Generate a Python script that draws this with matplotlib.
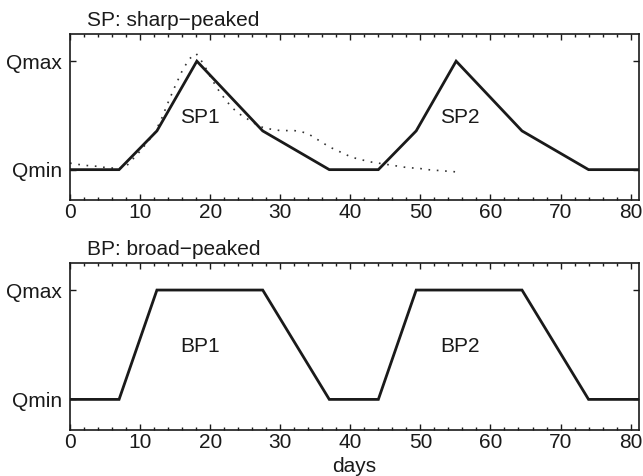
import matplotlib
matplotlib.use("Agg")
import matplotlib.pyplot as plt
from matplotlib.ticker import MultipleLocator

plt.rcParams['font.family'] = ['Liberation Sans', 'DejaVu Sans']

# Synthetic sharp-peaked hydrograph (two identical events)
sp_days = [0, 7, 12.4, 18.1, 27.5, 37, 44, 49.4, 55.1, 64.5, 74, 81.2]
sp_flow = [0, 0, 0.357, 1, 0.357, 0, 0, 0.357, 1, 0.357, 0, 0]

# Synthetic broad-peaked hydrograph (two identical events)
bp_days = [0, 7, 12.4, 27.5, 37, 44, 49.4, 64.5, 74, 81.2]
bp_flow = [0, 0, 1, 1, 0, 0, 1, 1, 0, 0]

# Observed daily flow that the sharp-peaked shape is based on
obs_days = list(range(0, 56))
obs_flow = [0.06, 0.05, 0.04, 0.035, 0.03, 0.02, 0.015, 0.01, 0.03, 0.10,
            0.17, 0.25, 0.33, 0.46, 0.62, 0.77, 0.91, 1.02, 1.07, 0.98,
            0.86, 0.75, 0.66, 0.58, 0.52, 0.48, 0.44, 0.40, 0.38, 0.37,
            0.36, 0.36, 0.36, 0.35, 0.33, 0.29, 0.25, 0.21, 0.18, 0.15,
            0.12, 0.10, 0.085, 0.07, 0.06, 0.05, 0.04, 0.03, 0.02, 0.015,
            0.01, 0.0, -0.005, -0.01, -0.015, -0.02]

y_ticks = [0, 1]
y_labels = ['Qmin', 'Qmax']
x_ticks = list(range(0, 81, 10))

panel_titles = ['SP: sharp\u2212peaked', 'BP: broad\u2212peaked']
event_labels = [['SP1', 'SP2'], ['BP1', 'BP2']]
event_label_days = [18.6, 55.6]
event_label_level = 0.48

fig = plt.figure(figsize=(6.43, 4.76), dpi=100)
ax_sp = fig.add_axes([0.1089, 0.5798, 0.8849, 0.3487])
ax_bp = fig.add_axes([0.1089, 0.0966, 0.8849, 0.3515])

ink = '#1a1a1a'
fs = 15

ax_sp.plot(obs_days, obs_flow, color='#333333', lw=1.2,
           linestyle=(0, (1.0, 4.0)))
ax_sp.plot(sp_days, sp_flow, color=ink, lw=2.0, solid_joinstyle='miter')
ax_bp.plot(bp_days, bp_flow, color=ink, lw=2.0, solid_joinstyle='miter')

for ax, title, labels in zip([ax_sp, ax_bp], panel_titles, event_labels):
    ax.set_xlim(0, 81.2)
    ax.set_ylim(-0.28, 1.25)
    ax.set_xticks(x_ticks)
    ax.xaxis.set_minor_locator(MultipleLocator(2))
    ax.set_yticks(y_ticks)
    ax.set_yticklabels(y_labels)
    ax.tick_params(which='both', direction='in', top=True, right=True,
                   colors=ink, labelsize=fs, width=1.0)
    ax.tick_params(which='major', length=4.0)
    ax.tick_params(which='minor', length=2.2)
    ax.tick_params(axis='x', which='major', pad=2)
    ax.tick_params(axis='y', which='major', pad=6)
    for s in ax.spines.values():
        s.set_linewidth(1.2)
        s.set_color(ink)
    ax.text(0.03, 1.025, title, transform=ax.transAxes, ha='left',
            va='bottom', fontsize=fs, color=ink)
    for lab, d in zip(labels, event_label_days):
        ax.text(d, event_label_level, lab, ha='center', va='center',
                fontsize=fs, color=ink)

ax_bp.set_xlabel('days', fontsize=fs, color=ink, labelpad=4)

fig.savefig('out.png', dpi=100)
